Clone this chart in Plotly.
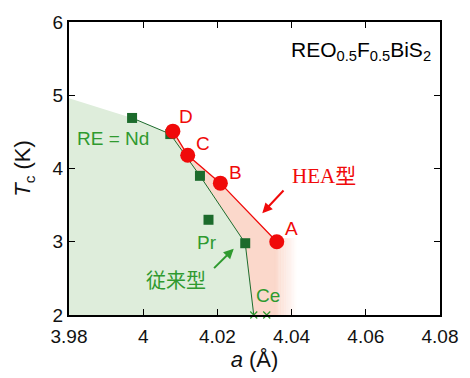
import plotly.graph_objects as go
import numpy as np

# ---- data ----
nd_line_a = [3.997, 4.0073, 4.0153, 4.0275, 4.0298]
nd_line_tc = [4.69, 4.47, 3.90, 2.98, 2.0]
green_sq_a = [3.997, 4.0073, 4.0153, 4.0176, 4.0275]
green_sq_tc = [4.69, 4.47, 3.90, 3.30, 2.98]
ce_a = [4.0298, 4.0333]
ce_tc = [2.0, 2.0]
hea_a = [4.008, 4.012, 4.0208, 4.036]
hea_tc = [4.51, 4.18, 3.80, 3.00]
hea_labels = ["D", "C", "B", "A"]
green_edge = (3.98, 4.96)   # upper-left edge of the green shading
fade_end = 4.0415           # right edge where the pink shading fades out

xticks = [3.98, 4.0, 4.02, 4.04, 4.06, 4.08]
xticklabels = ["3.98", "4", "4.02", "4.04", "4.06", "4.08"]
yticks = [2, 3, 4, 5, 6]

GREEN = "#1c6b2c"
LGREEN = "#2f9a2f"
RED = "#f00a0a"
SANS = "Liberation Sans, Arial"

fig = go.Figure()

# green shading
gx = [green_edge[0]] + nd_line_a + [3.98]
gy = [green_edge[1]] + nd_line_tc + [2.0]
fig.add_trace(go.Scatter(x=gx, y=gy, fill="toself", fillcolor="#deeddb",
                         line=dict(width=0), mode="lines", hoverinfo="skip", showlegend=False))

# pink shading between lines
px = hea_a + [hea_a[-1], nd_line_a[-1]] + nd_line_a[-2:0:-1]
py = hea_tc + [2.0, nd_line_tc[-1]] + nd_line_tc[-2:0:-1]
fig.add_trace(go.Scatter(x=px, y=py, fill="toself", fillcolor="#fbd8cb",
                         line=dict(width=0), mode="lines", hoverinfo="skip", showlegend=False))
# fading strips to the right of A
n = 14
xs = np.linspace(hea_a[-1] - 0.0005, fade_end, n + 1)
for i in range(n):
    a = 1 - (i + 0.5) / n
    x0, x1 = xs[i], xs[i + 1]
    fig.add_trace(go.Scatter(x=[x0, x1, x1, x0], y=[2, 2, hea_tc[-1] + 0.05, hea_tc[-1] + 0.05],
                             fill="toself", fillcolor=f"rgba(251,216,203,{a:.3f})",
                             line=dict(width=0), mode="lines", hoverinfo="skip", showlegend=False))

# lines
fig.add_trace(go.Scatter(x=nd_line_a, y=nd_line_tc, mode="lines",
                         line=dict(color=GREEN, width=1), showlegend=False))
fig.add_trace(go.Scatter(x=hea_a, y=hea_tc, mode="lines",
                         line=dict(color=RED, width=1.3), showlegend=False))
# markers
fig.add_trace(go.Scatter(x=green_sq_a, y=green_sq_tc, mode="markers",
                         marker=dict(symbol="square", size=10, color=GREEN), showlegend=False))
fig.add_trace(go.Scatter(x=ce_a, y=ce_tc, mode="markers", cliponaxis=False,
                         marker=dict(symbol="x-thin", size=7, line=dict(color=LGREEN, width=1.2)),
                         showlegend=False))
fig.add_trace(go.Scatter(x=hea_a, y=hea_tc, mode="markers",
                         marker=dict(symbol="circle", size=15, color=RED), showlegend=False))

ann = []
font_l = dict(family=SANS, size=19, color=RED)
offsets = [(0.0035, 0.20), (0.0040, 0.163), (0.0042, 0.146), (0.0040, 0.18)]
for a, t, lab, (dx, dy) in zip(hea_a, hea_tc, hea_labels, offsets):
    ann.append(dict(x=a + dx, y=t + dy, text=lab, showarrow=False, font=font_l))

gfont = dict(family=SANS, size=19, color=LGREEN)
ann += [
    dict(x=3.9918, y=4.41, text="RE = Nd", showarrow=False, font=gfont),
    dict(x=4.0171, y=2.99, text="Pr", showarrow=False, font=gfont),
    dict(x=4.0337, y=2.266, text="Ce", showarrow=False, font=gfont),
    dict(x=4.0089, y=2.478, text="従来型", showarrow=False,
         font=dict(family="Noto Sans CJK JP", size=20, color=LGREEN)),
    dict(x=4.0486, y=3.893, text="HEA型", showarrow=False,
         font=dict(family="Liberation Serif, Noto Sans CJK JP", size=21, color=RED)),
    dict(x=4.0588, y=5.60, text="REO<sub>0.5</sub>F<sub>0.5</sub>BiS<sub>2</sub>", showarrow=False,
         font=dict(family=SANS, size=21, color="black")),
    # arrows
    dict(x=4.0321, y=3.39, ax=4.0382, ay=3.72, xref="x", yref="y", axref="x", ayref="y",
         text="", showarrow=True, arrowhead=2, arrowsize=1, arrowwidth=2, arrowcolor=RED),
    dict(x=4.0244, y=2.905, ax=4.0187, ay=2.62, xref="x", yref="y", axref="x", ayref="y",
         text="", showarrow=True, arrowhead=2, arrowsize=1, arrowwidth=2, arrowcolor=LGREEN),
]

axis_common = dict(showgrid=False, zeroline=False, ticks="inside", ticklen=6, tickwidth=1.2,
                   tickcolor="black", showline=True, linecolor="black", linewidth=2, mirror="ticks",
                   tickfont=dict(family=SANS, size=19, color="#111"))
fig.update_layout(
    width=470, height=378, margin=dict(l=69, r=23, t=13, b=63),
    paper_bgcolor="white", plot_bgcolor="white",
    xaxis=dict(range=[3.98, 4.08], tickvals=xticks, ticktext=xticklabels, ticklabelstandoff=3,
               title=dict(text="<i>a</i> (Å)", font=dict(family=SANS, size=22, color="#111"),
                          standoff=3), **axis_common),
    yaxis=dict(range=[2, 6], tickvals=yticks,
               title=dict(text="<i>T</i><sub>c</sub> (K)", font=dict(family=SANS, size=22, color="#111"),
                          standoff=16), **axis_common),
    annotations=ann,
)
fig.write_html("out.html")
